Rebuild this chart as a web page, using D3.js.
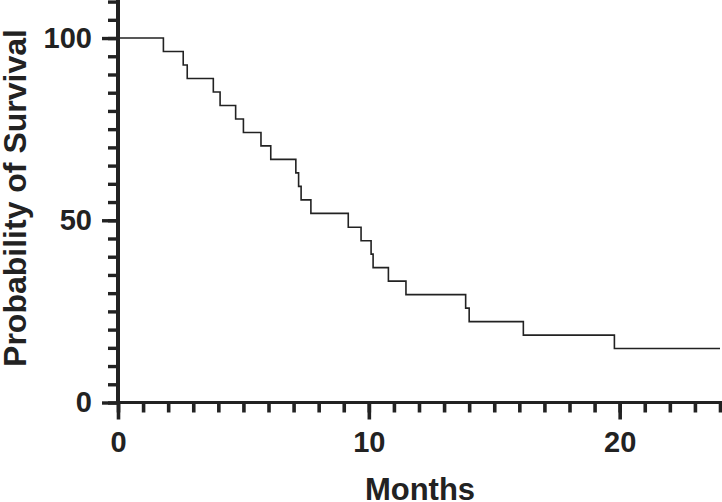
<!DOCTYPE html>
<html>
<head>
<meta charset="utf-8">
<style>
  body { margin: 0; background: #fff; }
  text { font-family: "Liberation Sans", Arial, sans-serif; font-weight: bold; fill: #222; }
</style>
</head>
<body>
<svg id="graph" width="722" height="502"></svg>

<script src="https://d3js.org/d3.v7.min.js"></script>
<script>
// event times (months) where the curve steps down, and survival after each step
var eventTimes = [1.81, 2.60, 2.76, 3.80, 4.07, 4.69, 5.00, 5.70, 6.09, 7.09, 7.20, 7.30, 7.69,
                  9.18, 9.69, 10.09, 10.17, 10.78, 11.48, 13.86, 14.00, 16.16, 19.79];
var survival   = [96.3, 92.6, 88.9, 85.2, 81.5, 77.8, 74.1, 70.4, 66.7, 63.0, 59.3, 55.6, 51.9,
                  48.1, 44.4, 40.7, 37.0, 33.3, 29.6, 25.9, 22.2, 18.5, 14.8];
var startSurvival = 100;
var lastFollowUp = 24;

var xMajorTicks = [0, 10, 20];
var xMinorTicks = d3.range(0, 25, 1);
var yMajorTicks = [0, 50, 100];
var yMinorTicks = d3.range(0, 111, 5);

var xTitle = "Months";
var yTitle = "Probability of Survival";

var svg = d3.select("#graph"),
    ink = "#222";

var x = d3.scaleLinear().domain([0, 24]).range([118, 720]);
var y = d3.scaleLinear().domain([0, 110]).range([402.5, 1.6]);

// build step points
var pts = [{t: 0, s: startSurvival}];
for (var i = 0; i < eventTimes.length; i++) {
  pts.push({t: eventTimes[i], s: survival[i]});
}
pts.push({t: lastFollowUp, s: survival[survival.length - 1]});

var kmLine = d3.line()
    .x(function(d) { return x(d.t); })
    .y(function(d) { return y(d.s); })
    .curve(d3.curveStepAfter);

svg.append("path")
    .datum(pts)
    .attr("fill", "none")
    .attr("stroke", ink)
    .attr("stroke-width", 1.6)
    .attr("d", kmLine);

// x axis: minor ticks, then major ticks with labels
var xg = svg.append("g").attr("transform", "translate(0," + y(0) + ")");
xg.append("g")
    .call(d3.axisBottom(x).tickValues(xMinorTicks).tickSize(10).tickSizeOuter(0).tickFormat(""))
    .call(function(g) { g.select(".domain").remove(); });
xg.append("g")
    .call(d3.axisBottom(x).tickValues(xMajorTicks).tickSize(17).tickSizeOuter(0).tickPadding(12))
    .call(function(g) { g.select(".domain").remove(); });
xg.selectAll("line").attr("stroke", ink).attr("stroke-width", 3.6);
xg.selectAll("text").attr("font-size", 29).attr("fill", ink)
    .attr("font-family", "Liberation Sans, Arial, sans-serif").attr("font-weight", "bold");

// y axis
var yg = svg.append("g").attr("transform", "translate(" + x(0) + ",0)");
yg.append("g")
    .call(d3.axisLeft(y).tickValues(yMinorTicks).tickSize(10).tickSizeOuter(0).tickFormat(""))
    .call(function(g) { g.select(".domain").remove(); });
yg.append("g")
    .call(d3.axisLeft(y).tickValues(yMajorTicks).tickSize(16).tickSizeOuter(0).tickPadding(10))
    .call(function(g) { g.select(".domain").remove(); });
yg.selectAll("line").attr("stroke", ink).attr("stroke-width", 3.4);
yg.selectAll("text").attr("font-size", 29).attr("fill", ink)
    .attr("font-family", "Liberation Sans, Arial, sans-serif").attr("font-weight", "bold");

// axis lines
svg.append("line")
    .attr("x1", x(0) - 2).attr("x2", 722)
    .attr("y1", y(0)).attr("y2", y(0))
    .attr("stroke", ink).attr("stroke-width", 3.2);
svg.append("line")
    .attr("x1", x(0)).attr("x2", x(0))
    .attr("y1", y(0) + 1.6).attr("y2", 0)
    .attr("stroke", ink).attr("stroke-width", 4);

// titles
svg.append("text")
    .attr("x", 420).attr("y", 500)
    .attr("text-anchor", "middle")
    .attr("font-size", 31)
    .text(xTitle);

svg.append("text")
    .attr("transform", "translate(26,198) rotate(-90)")
    .attr("text-anchor", "middle")
    .attr("font-size", 32)
    .text(yTitle);
</script>
</body>
</html>
